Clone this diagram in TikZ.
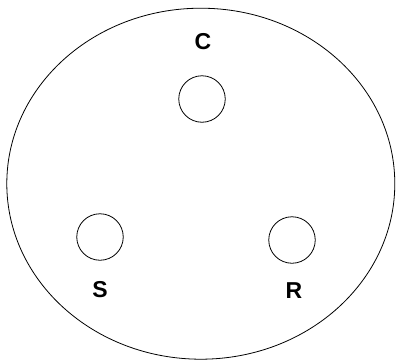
\documentclass[tikz,border=0pt]{standalone}
\usepackage{fontspec}
\setmainfont{Liberation Sans}
\usetikzlibrary{shapes.geometric}
\begin{document}
\begin{tikzpicture}[x=1pt,y=1pt,
  hole/.style={circle,draw,line width=0.8pt,minimum size=46.5pt,inner sep=0pt},
  lbl/.style={font=\fontsize{23}{23}\selectfont\bfseries,inner sep=0pt}]
\useasboundingbox (0,0) rectangle (396,360);
\fill[white] (0,0) rectangle (396,360);
\node[ellipse,draw,line width=0.8pt,minimum width=388pt,minimum height=351pt,inner sep=0pt] (body) at (200.8,176.3) {};
\node[hole] (c) at (202,261) {};
\node[hole] (s) at (100,123) {};
\node[hole] (r) at (292,120) {};
\node[lbl] (cl) at (203,318) {C};
\node[lbl] (sl) at (100,70) {S};
\node[lbl] (rl) at (294,69) {R};
\end{tikzpicture}
\end{document}
